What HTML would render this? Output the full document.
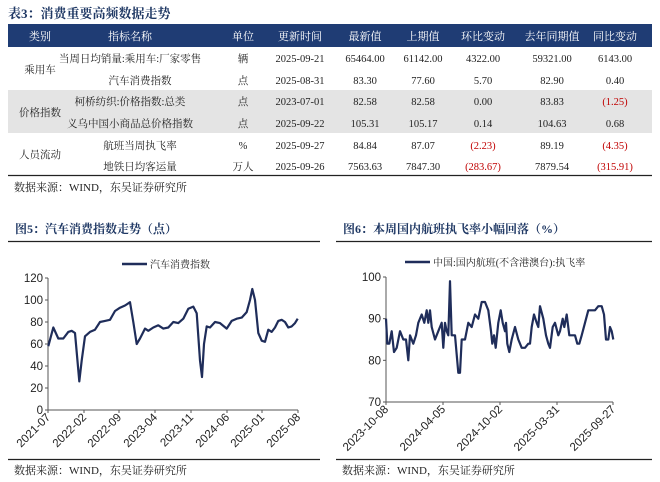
<!DOCTYPE html>
<html><head><meta charset="utf-8"><style>
body{margin:0;background:#fff;width:660px;height:482px;overflow:hidden}
svg{display:block}
.cn{font-family:"Liberation Serif","Noto Serif CJK SC",serif}
.ax{font-family:"Liberation Sans",sans-serif;font-size:11.5px;fill:#222}
</style></head><body>
<svg id="s" width="660" height="482" xmlns="http://www.w3.org/2000/svg">
<text x="8" y="18" class="cn" font-size="13" font-weight="bold" fill="#1f3864">表3：消费重要高频数据走势</text>
<rect x="8" y="24" width="644" height="23" fill="#1f3c74"/>
<rect x="8" y="90" width="644" height="43" fill="#e4e4e4"/>
<line x1="8" y1="175.5" x2="652" y2="175.5" stroke="#222" stroke-width="1.2"/>
<g class="cn" font-size="11" fill="#fff" text-anchor="middle">
<text x="40" y="40">类别</text><text x="130" y="40">指标名称</text><text x="243" y="40">单位</text><text x="300" y="40">更新时间</text><text x="365" y="40">最新值</text><text x="423" y="40">上期值</text><text x="483" y="40">环比变动</text><text x="552" y="40">去年同期值</text><text x="615" y="40">同比变动</text>
</g>
<g class="cn" font-size="10.5" fill="#222" text-anchor="middle">
<text x="40" y="73">乘用车</text><text x="40" y="116">价格指数</text><text x="40" y="158">人员流动</text>
<text x="130" y="62">当周日均销量:乘用车:厂家零售</text><text x="243" y="62">辆</text><text x="300" y="62">2025-09-21</text><text x="365" y="62">65464.00</text><text x="423" y="62">61142.00</text><text x="483" y="62">4322.00</text><text x="552" y="62">59321.00</text><text x="615" y="62">6143.00</text>
<text x="140" y="84">汽车消费指数</text><text x="243" y="84">点</text><text x="300" y="84">2025-08-31</text><text x="365" y="84">83.30</text><text x="423" y="84">77.60</text><text x="483" y="84">5.70</text><text x="552" y="84">82.90</text><text x="615" y="84">0.40</text>
<text x="130" y="105">柯桥纺织:价格指数:总类</text><text x="243" y="105">点</text><text x="300" y="105">2023-07-01</text><text x="365" y="105">82.58</text><text x="423" y="105">82.58</text><text x="483" y="105">0.00</text><text x="552" y="105">83.83</text><text x="615" y="105" fill="#c00000">(1.25)</text>
<text x="130" y="127">义乌中国小商品总价格指数</text><text x="243" y="127">点</text><text x="300" y="127">2025-09-22</text><text x="365" y="127">105.31</text><text x="423" y="127">105.17</text><text x="483" y="127">0.14</text><text x="552" y="127">104.63</text><text x="615" y="127">0.68</text>
<text x="140" y="149">航班当周执飞率</text><text x="243" y="149">%</text><text x="300" y="149">2025-09-27</text><text x="365" y="149">84.84</text><text x="423" y="149">87.07</text><text x="483" y="149" fill="#c00000">(2.23)</text><text x="552" y="149">89.19</text><text x="615" y="149" fill="#c00000">(4.35)</text>
<text x="140" y="170">地铁日均客运量</text><text x="243" y="170">万人</text><text x="300" y="170">2025-09-26</text><text x="365" y="170">7563.63</text><text x="423" y="170">7847.30</text><text x="483" y="170" fill="#c00000">(283.67)</text><text x="552" y="170">7879.54</text><text x="615" y="170" fill="#c00000">(315.91)</text>
</g>
<text x="14" y="191" class="cn" font-size="11" fill="#222">数据来源：WIND，东吴证券研究所</text>

<text x="15" y="233" class="cn" font-size="12" font-weight="bold" fill="#1f3864">图5：汽车消费指数走势（点）</text>
<line x1="8" y1="241.5" x2="320" y2="241.5" stroke="#222" stroke-width="1.2"/>
<line x1="122" y1="264" x2="147" y2="264" stroke="#1f2d5a" stroke-width="2.5"/>
<text x="150" y="268" class="cn" font-size="10" fill="#222">汽车消费指数</text>
<g id="ax1"></g>
<line x1="8" y1="459.5" x2="320" y2="459.5" stroke="#222" stroke-width="1.2"/>
<text x="14" y="474" class="cn" font-size="11" fill="#222">数据来源：WIND，东吴证券研究所</text>

<text x="343" y="233" class="cn" font-size="12" font-weight="bold" fill="#1f3864">图6：本周国内航班执飞率小幅回落（%）</text>
<line x1="336" y1="241.5" x2="652" y2="241.5" stroke="#222" stroke-width="1.2"/>
<line x1="405" y1="262" x2="430" y2="262" stroke="#1f2d5a" stroke-width="2.5"/>
<text x="433" y="266" class="cn" font-size="10" fill="#222">中国:国内航班(不含港澳台):执飞率</text>
<g id="ax2"></g>
<line x1="336" y1="459.5" x2="652" y2="459.5" stroke="#222" stroke-width="1.2"/>
<text x="342" y="474" class="cn" font-size="11" fill="#222">数据来源：WIND，东吴证券研究所</text>
</svg>
<script>
const NS="http://www.w3.org/2000/svg";
function el(p,t,a,txt){const e=document.createElementNS(NS,t);for(const k in a)e.setAttribute(k,a[k]);if(txt!=null)e.textContent=txt;p.appendChild(e);return e;}
function chart(g,o){
 const X=zx=>o.ox+zx/3, Y=v=>o.y0+(o.vmax-v)/(o.vmax-o.vmin)*(o.y1-o.y0);
 el(g,"line",{x1:o.ax,y1:o.y0,x2:o.ax,y2:o.y1,stroke:"#555"});
 el(g,"line",{x1:o.ax,y1:o.y1,x2:o.xe,y2:o.y1,stroke:"#555"});
 for(const v of o.yt){el(g,"line",{x1:o.ax-3,y1:Y(v),x2:o.ax,y2:Y(v),stroke:"#555"});el(g,"text",{x:o.ax-5,y:Y(v)+4,"text-anchor":"end",class:"ax"},v);}
 o.xt.forEach((t,i)=>{const x=o.xp[i];el(g,"line",{x1:x,y1:o.y1,x2:x,y2:o.y1+3,stroke:"#555"});el(g,"text",{x:x+3,y:o.y1+8,"text-anchor":"end",class:"ax",transform:`rotate(-45 ${x+3} ${o.y1+8})`},t);});
 el(g,"polyline",{points:o.d.map(p=>X(p[0]).toFixed(1)+","+Y(p[1]).toFixed(1)).join(" "),fill:"none",stroke:"#1f2d5a","stroke-width":2.2,"stroke-linejoin":"round"});
}
const d1=[[145,58],[160,75],[175,65],[190,65],[205,71],[215,72],[225,70],[238,26],[245,45],[255,67],[270,71],[285,73],[300,80],[315,81],[330,82],[345,90],[360,93],[375,95],[390,98],[400,80],[410,60],[420,65],[435,74],[445,72],[460,75],[475,77],[490,74],[505,75],[520,80],[535,79],[550,83],[565,92],[580,94],[590,88],[600,45],[606,30],[612,60],[620,76],[630,75],[645,80],[660,79],[680,74],[695,81],[710,83],[725,84],[740,89],[750,100],[757,110],[765,100],[775,70],[785,63],[795,62],[805,73],[815,71],[825,75],[835,81],[845,82],[855,80],[865,75],[875,76],[885,79],[893,83]];
chart(document.getElementById("ax1"),{ox:0,ax:48,xe:298,y0:278,y1:410,vmin:0,vmax:120,yt:[0,20,40,60,80,100,120],xt:["2021-07","2022-02","2022-09","2023-04","2023-11","2024-06","2025-01","2025-08"],xp:[48,84,119,155,191,227,262,298],d:d1});
const d2=[[168,90],[172,84],[178,84],[185,87],[192,82],[200,83],[210,87],[220,85],[228,85],[235,80],[240,86],[250,84],[258,86],[265,89],[275,91],[283,89],[290,92],[295,89],[300,92],[305,88],[315,85],[325,87],[335,89],[340,83],[345,89],[350,87],[355,86],[360,99],[365,86],[375,86],[385,77],[390,77],[395,85],[405,85],[415,89],[425,88],[435,91],[445,90],[455,94],[465,94],[475,92],[483,87],[487,84],[492,86],[497,83],[505,89],[512,92],[518,89],[525,87],[528,89],[532,84],[538,82],[545,85],[555,88],[565,85],[575,83],[585,83],[595,84],[600,84],[605,88],[612,91],[620,89],[625,88],[630,93],[640,90],[648,86],[655,84],[660,83],[668,88],[675,89],[685,86],[690,87],[698,90],[703,88],[710,91],[718,86],[725,86],[735,86],[742,84],[748,84],[755,86],[765,89],[775,92],[785,92],[795,92],[805,93],[815,93],[822,91],[828,85],[835,85],[840,88],[845,87],[850,85]];
chart(document.getElementById("ax2"),{ox:330,ax:386,xe:613,y0:277,y1:402,vmin:70,vmax:100,yt:[70,80,90,100],xt:["2023-10-08","2024-04-05","2024-10-02","2025-03-31","2025-09-27"],xp:[386,443,500,557,613],d:d2});
</script>
</body></html>
